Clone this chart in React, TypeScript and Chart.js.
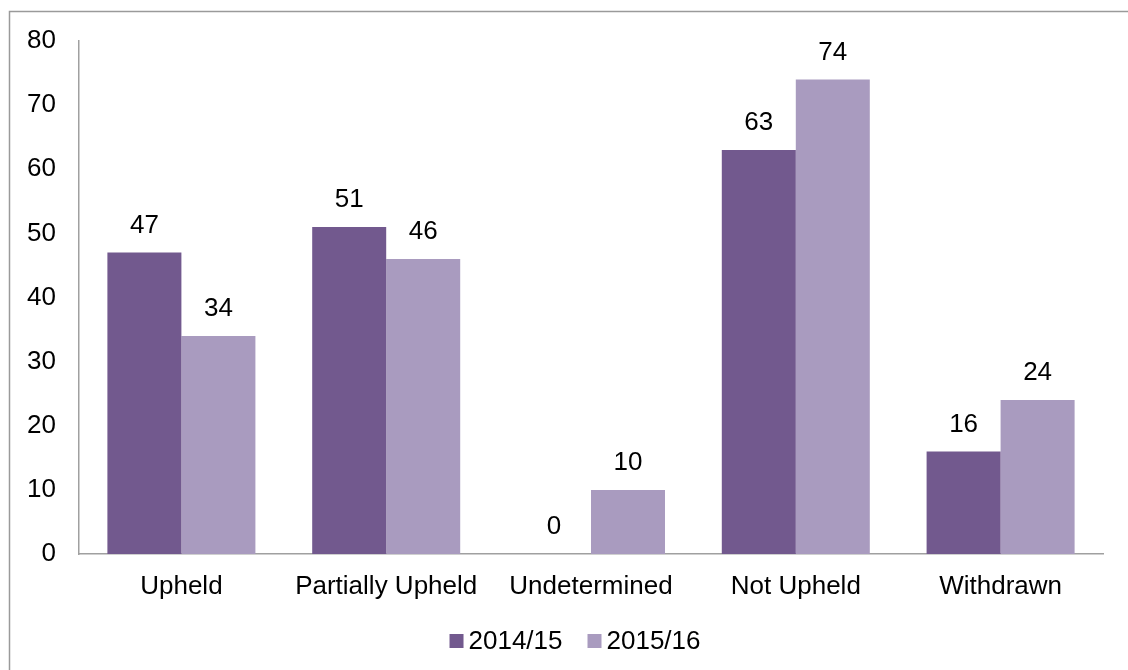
import React, { useEffect, useRef } from "react";
import { Chart, registerables } from "chart.js";

Chart.register(...registerables);

const categories = ["Upheld", "Partially Upheld", "Undetermined", "Not Upheld", "Withdrawn"];
const series2014 = [47, 51, 0, 63, 16];
const series2015 = [34, 46, 10, 74, 24];
const seriesNames = ["2014/15", "2015/16"];
const yTicks = { min: 0, max: 80, step: 10 };

const DARK = "#72598E";
const LIGHT = "#A99BBF";
const AXIS = "#a0a0a0";
const FONT = "Liberation Sans, Arial, sans-serif";
const FS = 26;

const frame = {
  id: "frame",
  beforeDraw(chart: any) {
    const ctx = chart.ctx;
    ctx.save();
    ctx.fillStyle = "#ffffff";
    ctx.fillRect(0, 0, chart.width, chart.height);
    ctx.strokeStyle = "#9a9a9a";
    ctx.lineWidth = 1.5;
    ctx.beginPath();
    ctx.moveTo(9.5, chart.height);
    ctx.lineTo(9.5, 11.5);
    ctx.lineTo(chart.width, 11.5);
    ctx.stroke();
    ctx.restore();
  },
};

const valueLabels = {
  id: "valueLabels",
  afterDatasetsDraw(chart: any) {
    const ctx = chart.ctx;
    ctx.save();
    ctx.font = `${FS}px ${FONT}`;
    ctx.fillStyle = "#000";
    ctx.textAlign = "center";
    ctx.textBaseline = "middle";
    chart.data.datasets.forEach((ds: any, i: number) => {
      const meta = chart.getDatasetMeta(i);
      meta.data.forEach((bar: any, j: number) => {
        ctx.fillText(String(ds.data[j]), bar.x, bar.y - 27);
      });
    });
    ctx.restore();
  },
};

const customLegend = {
  id: "customLegend",
  afterDraw(chart: any) {
    const ctx = chart.ctx;
    ctx.save();
    ctx.font = `${FS}px ${FONT}`;
    ctx.textBaseline = "middle";
    const box = 14;
    const gap = 5;
    const itemGap = 25;
    const items = chart.data.datasets.map((ds: any) => ({
      label: ds.label,
      color: ds.backgroundColor,
      w: box + gap + ctx.measureText(ds.label).width,
    }));
    const total = items.reduce((s: number, it: any) => s + it.w, 0) + itemGap * (items.length - 1);
    let x = chart.width / 2 + 11 - total / 2;
    const y = 641;
    items.forEach((it: any) => {
      ctx.fillStyle = it.color;
      ctx.fillRect(x, y - box / 2, box, box);
      ctx.fillStyle = "#000";
      ctx.textAlign = "left";
      ctx.fillText(it.label, x + box + gap, y + 1);
      x += it.w + itemGap;
    });
    ctx.restore();
  },
};

export default function App() {
  const ref = useRef<HTMLCanvasElement>(null);
  useEffect(() => {
    if (!ref.current) return;
    const chart = new Chart(ref.current, {
      type: "bar",
      data: {
        labels: categories,
        datasets: [
          { label: seriesNames[0], data: series2014, backgroundColor: DARK, categoryPercentage: 0.7227, barPercentage: 1 },
          { label: seriesNames[1], data: series2015, backgroundColor: LIGHT, categoryPercentage: 0.7227, barPercentage: 1 },
        ],
      },
      options: {
        responsive: false,
        animation: false,
        layout: { padding: { top: 41, right: 25, left: 0, bottom: 0 } },
        plugins: { legend: { display: false }, tooltip: { enabled: false } },
        scales: {
          x: {
            grid: { display: false },
            border: { display: true, color: AXIS, width: 1.5 },
            ticks: { color: "#000", font: { size: FS, family: FONT }, padding: 9, maxRotation: 0, autoSkip: false },
            afterFit: (s: any) => { s.height = 116; },
          },
          y: {
            min: yTicks.min,
            max: yTicks.max,
            grid: { display: false },
            border: { display: true, color: AXIS, width: 1.5 },
            ticks: { stepSize: yTicks.step, color: "#000", font: { size: FS, family: FONT }, padding: 15 },
            afterFit: (s: any) => { s.width = 79; },
          },
        },
      },
      plugins: [frame, valueLabels, customLegend],
    });
    return () => chart.destroy();
  }, []);
  return (
    <div style={{ position: "fixed", left: 0, top: 0, width: 1128, height: 670, background: "#fff" }}>
      <canvas ref={ref} width={1128} height={670} style={{ display: "block", width: 1128, height: 670 }} />
    </div>
  );
}
